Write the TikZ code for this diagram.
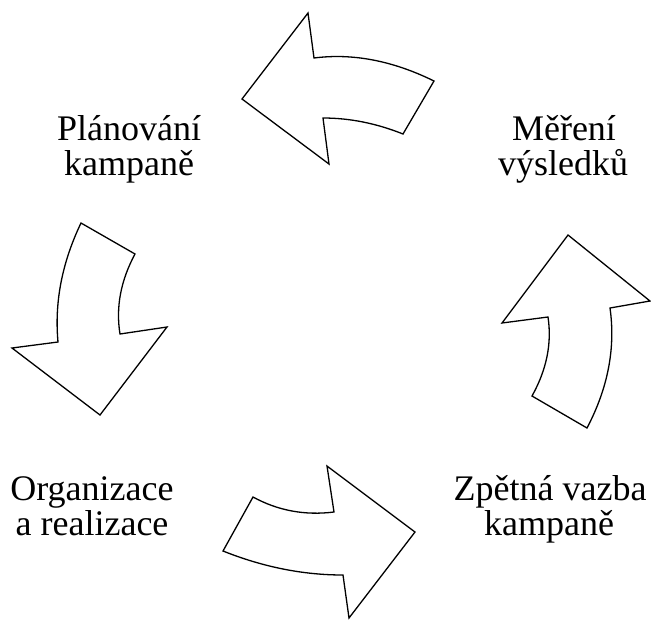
\documentclass[tikz,border=0pt]{standalone}
\usepackage{fontspec}
\setmainfont{Liberation Serif}
\usetikzlibrary{calc}
\tikzset{
  cyclearrow/.style={draw=black, line width=1.3pt, line join=miter, fill=white},
  labeltext/.style={font=\fontsize{36}{35}\selectfont, anchor=base, inner sep=0pt}
}
\begin{document}
\begin{tikzpicture}[x=1pt,y=-1pt]
\useasboundingbox (0,0) rectangle (651,619);
% top arrow (pointing left)
\draw[cyclearrow] (242,99) -- (308,13) -- (314,58)
  .. controls ($(314,58)!0.6667!(372,50.5)$) and ($(434,81)!0.6667!(372,50.5)$) .. (434,81)
  -- (403,134)
  .. controls ($(403,134)!0.6667!(363,118)$) and ($(323,118)!0.6667!(363,118)$) .. (323,118)
  -- (329,164) -- cycle;
% left arrow (pointing down)
\draw[cyclearrow] (81,223) -- (135,254)
  .. controls ($(135,254)!0.6667!(113.5,294)$) and ($(120,334)!0.6667!(113.5,294)$) .. (120,334)
  -- (167,327) -- (100,415) -- (12,348) -- (58,342)
  .. controls ($(58,342)!0.6667!(52.5,282.5)$) and ($(81,223)!0.6667!(52.5,282.5)$) .. (81,223)
  -- cycle;
% bottom arrow (pointing right)
\draw[cyclearrow] (253,497)
  .. controls ($(253,497)!0.6667!(290.5,517.5)$) and ($(334,512)!0.6667!(290.5,517.5)$) .. (334,512)
  -- (327,466) -- (415,532) -- (349,618) -- (343,575)
  .. controls ($(343,575)!0.6667!(283,575)$) and ($(223,551)!0.6667!(283,575)$) .. (223,551)
  -- cycle;
% right arrow (pointing up)
\draw[cyclearrow] (568,235) -- (650,301) -- (610,308)
  .. controls ($(610,308)!0.6667!(618.5,368)$) and ($(587,428)!0.6667!(618.5,368)$) .. (587,428)
  -- (532,396)
  .. controls ($(532,396)!0.6667!(554,356.5)$) and ($(548,317)!0.6667!(554,356.5)$) .. (548,317)
  -- (502,323) -- cycle;
% labels
\node[labeltext] (plan1) at (129,140) {Plánování};
\node[labeltext] (plan2) at (129,175) {kampaně};
\node[labeltext] (mer1) at (564,140) {Měření};
\node[labeltext] (mer2) at (563,175) {výsledků};
\node[labeltext] (org1) at (92,500) {Organizace};
\node[labeltext] (org2) at (92,535) {a realizace};
\node[labeltext] (zpet1) at (550,500) {Zpětná vazba};
\node[labeltext] (zpet2) at (549,535) {kampaně};
\end{tikzpicture}
\end{document}
